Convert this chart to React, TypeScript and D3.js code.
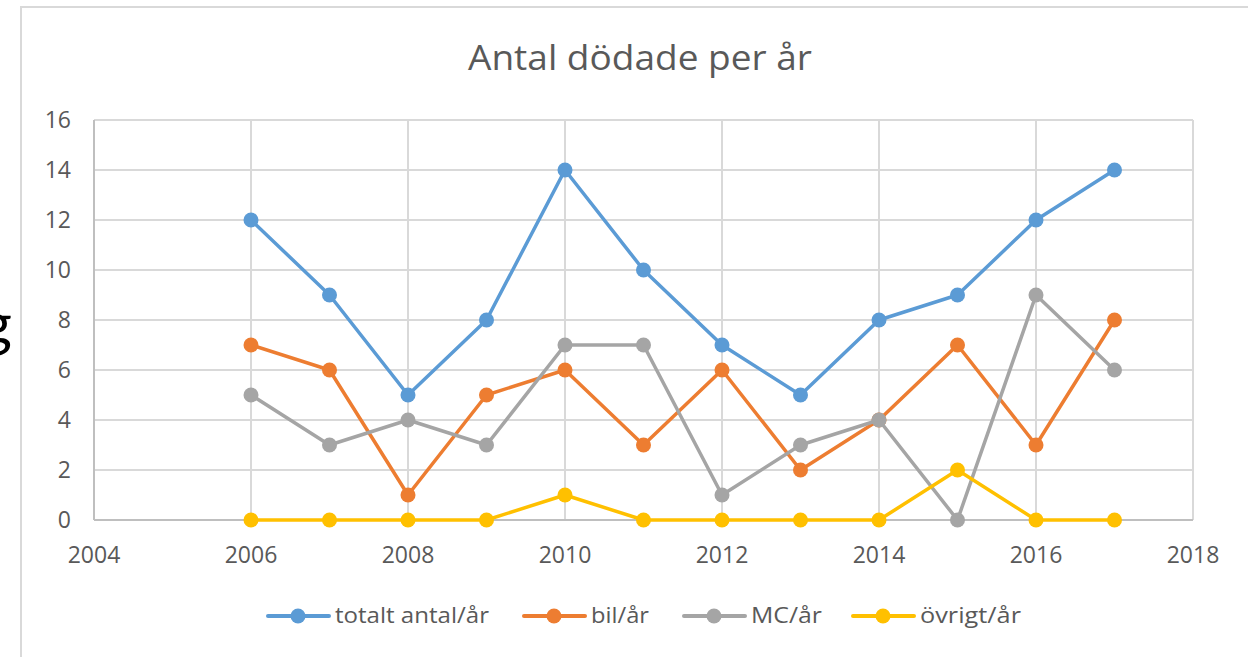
import * as d3 from "d3";

const years = [2006, 2007, 2008, 2009, 2010, 2011, 2012, 2013, 2014, 2015, 2016, 2017];
const totalt = [12, 9, 5, 8, 14, 10, 7, 5, 8, 9, 12, 14];
const bil = [7, 6, 1, 5, 6, 3, 6, 2, 4, 7, 3, 8];
const mc = [5, 3, 4, 3, 7, 7, 1, 3, 4, 0, 9, 6];
const ovrigt = [0, 0, 0, 0, 1, 0, 0, 0, 0, 2, 0, 0];
const xTicks = [2004, 2006, 2008, 2010, 2012, 2014, 2016, 2018];
const yTicks = [0, 2, 4, 6, 8, 10, 12, 14, 16];

// legend placement: line start x and label width as measured on the reference
const series = [
  { name: "totalt antal/år", values: totalt, color: "#5B9BD5", lx: 268, tw: 154 },
  { name: "bil/år", values: bil, color: "#ED7D31", lx: 524, tw: 58 },
  { name: "MC/år", values: mc, color: "#A5A5A5", lx: 684, tw: 71 },
  { name: "övrigt/år", values: ovrigt, color: "#FFC000", lx: 853, tw: 101 },
];

const W = 1248;
const H = 657;
const font = "'Open Sans', 'Noto Sans', sans-serif";

export default function App() {
  const x = d3.scaleLinear().domain([2004, 2018]).range([94, 1193]);
  const y = d3.scaleLinear().domain([0, 16]).range([520, 120]);
  const line = d3
    .line<number>()
    .x((_, i) => x(years[i]))
    .y((d) => y(d));

  return (
    <svg
      width={W}
      height={H}
      style={{ position: "absolute", left: 0, top: 0, background: "#fff" }}
    >
      {/* chart frame */}
      <rect x={21} y={7} width={W} height={H} fill="#fff" stroke="#d9d9d9" strokeWidth={2} />
      {/* stray text from the page behind */}
      <text x={12} y={345} textAnchor="end" fontSize={60} fontFamily="Lato, sans-serif" fill="#000">
        g
      </text>

      <text
        x={640}
        y={70}
        textAnchor="middle"
        fontSize={35}
        fontFamily={font}
        fill="#595959"
        textLength={344}
        lengthAdjust="spacingAndGlyphs"
      >
        Antal dödade per år
      </text>

      {/* grid */}
      {yTicks.map((t) => (
        <line key={"h" + t} x1={x(2004)} x2={x(2018)} y1={y(t)} y2={y(t)} stroke="#d9d9d9" strokeWidth={2} />
      ))}
      {xTicks.map((t) => (
        <line key={"v" + t} x1={x(t)} x2={x(t)} y1={y(0)} y2={y(16)} stroke="#d9d9d9" strokeWidth={2} />
      ))}
      <line x1={x(2004)} x2={x(2004)} y1={y(0)} y2={y(16)} stroke="#bfbfbf" strokeWidth={2} />
      <line x1={x(2004)} x2={x(2018)} y1={y(0)} y2={y(0)} stroke="#bfbfbf" strokeWidth={2} />

      {yTicks.map((t) => (
        <text key={"yl" + t} x={71} y={y(t)} dy="0.36em" textAnchor="end" fontSize={23} fontFamily={font} fill="#595959">
          {t}
        </text>
      ))}
      {xTicks.map((t) => (
        <text key={"xl" + t} x={x(t)} y={563} textAnchor="middle" fontSize={23} fontFamily={font} fill="#595959">
          {t}
        </text>
      ))}

      {series.map((s) => (
        <g key={s.name}>
          <path d={line(s.values) ?? ""} fill="none" stroke={s.color} strokeWidth={3.5} strokeLinejoin="round" />
          {s.values.map((v, i) => (
            <circle key={i} cx={x(years[i])} cy={y(v)} r={7.5} fill={s.color} />
          ))}
        </g>
      ))}

      {/* legend */}
      {series.map((s) => (
        <g key={"lg" + s.name}>
          <line x1={s.lx} x2={s.lx + 61} y1={616} y2={616} stroke={s.color} strokeWidth={4} strokeLinecap="round" />
          <circle cx={s.lx + 30} cy={616} r={7.5} fill={s.color} />
          <text
            x={s.lx + 67}
            y={623}
            fontSize={21}
            fontFamily={font}
            fill="#595959"
            textLength={s.tw}
            lengthAdjust="spacingAndGlyphs"
          >
            {s.name}
          </text>
        </g>
      ))}
    </svg>
  );
}
